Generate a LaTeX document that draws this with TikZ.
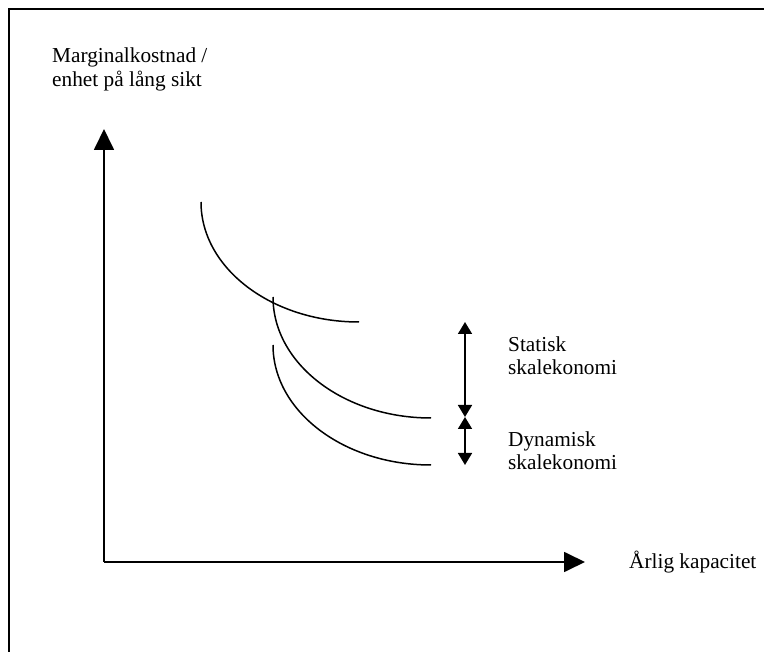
\documentclass[tikz,border=0pt]{standalone}
\usepackage{fontspec}
\setmainfont{Liberation Serif}
\usetikzlibrary{arrows.meta}
\tikzset{
  axisline/.style={line width=1.8pt, -{Triangle[length=21pt,width=20pt]}},
  dbl/.style={line width=1.6pt, {Triangle[length=12pt,width=14pt]}-{Triangle[length=12pt,width=14pt]}},
  curve/.style={line width=1.5pt},
  lbl/.style={anchor=base west, inner sep=0pt, font=\fontsize{21.3}{24.5}\selectfont}
}
\begin{document}
\begin{tikzpicture}[x=1pt,y=-1pt]
\useasboundingbox (0,0) rectangle (764,652);
% frame
\draw[line width=2pt] (9,652) -- (9,9) -- (764,9);
% y label
\node[lbl] (yl1) at (52,63) {Marginalkostnad /};
\node[lbl] (yl2) at (52,87) {enhet på lång sikt};
% axes
\coordinate (O) at (104,562);
\coordinate (ytip) at (104,129);
\coordinate (xtip) at (585,562);
\draw[axisline] (O) -- (ytip);
\draw[axisline] (O) -- (xtip);
\node[lbl, anchor=west] (xl) at (629,562) {Årlig kapacitet};
% curves
\coordinate (c1) at (201,202);
\coordinate (c2) at (273,297);
\coordinate (c3) at (273,345);
\draw[curve] (c1) arc[start angle=180, end angle=90, x radius=158, y radius=120];
\draw[curve] (c2) arc[start angle=180, end angle=90, x radius=158, y radius=121];
\draw[curve] (c3) arc[start angle=180, end angle=90, x radius=158, y radius=120];
% double arrows
\coordinate (a1) at (465,322);
\coordinate (a2) at (465,417);
\coordinate (a3) at (465,465);
\draw[dbl] (a1) -- (a2);
\draw[dbl] (a2) -- (a3);
% labels
\node[lbl] (s1) at (508,352) {Statisk};
\node[lbl] (s2) at (508,375) {skalekonomi};
\node[lbl] (d1) at (508,447) {Dynamisk};
\node[lbl] (d2) at (508,470) {skalekonomi};
\end{tikzpicture}
\end{document}
